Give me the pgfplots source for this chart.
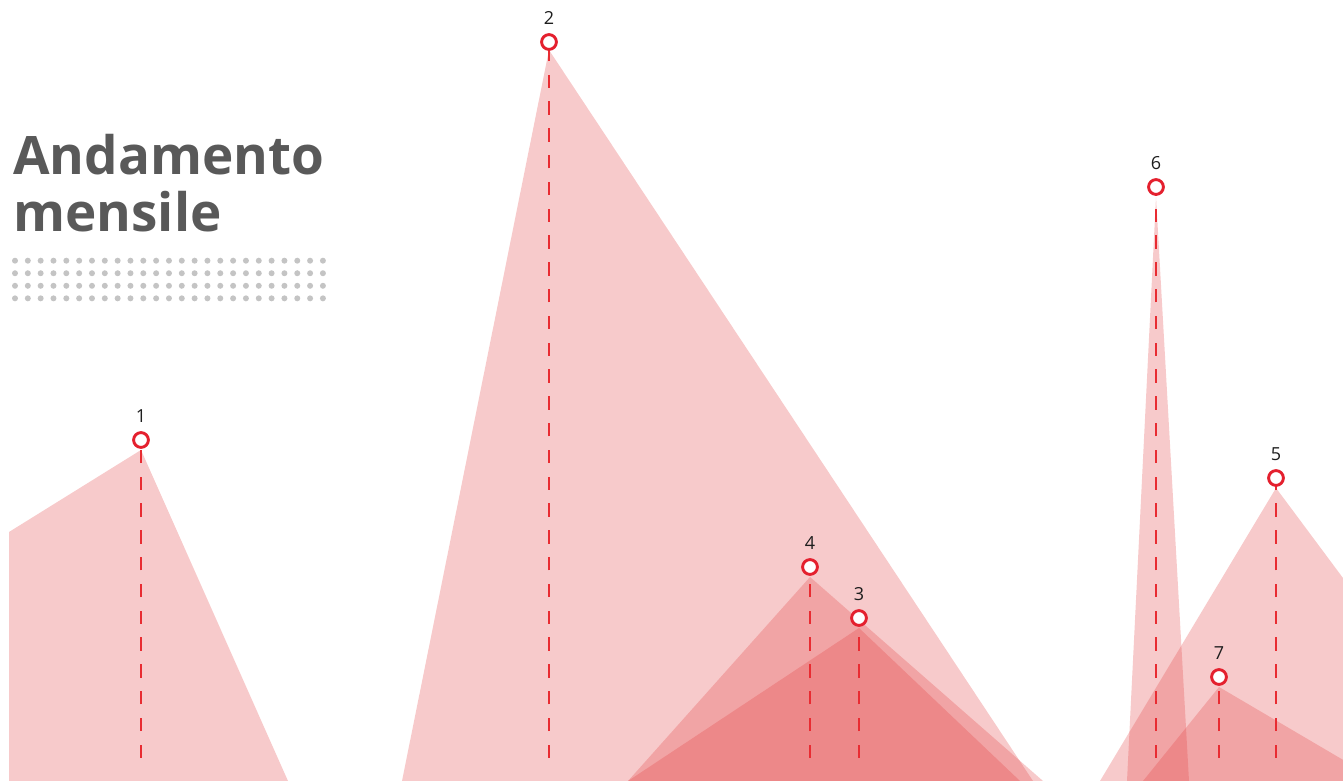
\documentclass[border=0pt]{standalone}
\usepackage{pgfplots}
\pgfplotsset{compat=1.18}
\usepackage{fontspec}
\setmainfont{Open Sans}
\definecolor{tri}{RGB}{226,60,62}
\definecolor{bred}{RGB}{228,32,46}
\definecolor{dred}{RGB}{232,44,50}
\definecolor{ttl}{RGB}{89,89,89}
\definecolor{dotc}{RGB}{196,196,196}
\definecolor{lbl}{RGB}{30,30,30}
\begin{document}
\begin{tikzpicture}
\path[use as bounding box] (0,0) rectangle (671.5pt,390.5pt);
\begin{axis}[at={(0,0)}, anchor=south west, width=671.5pt, height=390.5pt,
  scale only axis, xmin=0, xmax=1343, ymin=0, ymax=781,
  axis lines=none, xtick=\empty, ytick=\empty, clip=true]
% triangles (pixel-space units)
\addplot[draw=none, fill=tri, fill opacity=0.27] coordinates {(9,0) (9,249) (141,331) (288,0)} -- cycle;
\addplot[draw=none, fill=tri, fill opacity=0.27] coordinates {(402,0) (549,731) (1033,0)} -- cycle;
\addplot[draw=none, fill=tri, fill opacity=0.27] coordinates {(628,0) (859,153) (1020,0)} -- cycle;
\addplot[draw=none, fill=tri, fill opacity=0.27] coordinates {(628,0) (810,204) (1043,0)} -- cycle;
\addplot[draw=none, fill=tri, fill opacity=0.27] coordinates {(1100,0) (1276,293) (1494,0)} -- cycle;
\addplot[draw=none, fill=tri, fill opacity=0.27] coordinates {(1127,0) (1156,584) (1189,0)} -- cycle;
\addplot[draw=none, fill=tri, fill opacity=0.27] coordinates {(1143,0) (1219,94) (1379,0)} -- cycle;
% dashed drop lines (drawn bottom-up)
\addplot[dred, line width=1.4pt, dash pattern=on 6.7pt off 6.7pt] coordinates {(141,23) (141,333)};
\addplot[dred, line width=1.4pt, dash pattern=on 6.7pt off 6.7pt] coordinates {(549,23) (549,731)};
\addplot[dred, line width=1.4pt, dash pattern=on 6.7pt off 6.7pt] coordinates {(859,23) (859,155)};
\addplot[dred, line width=1.4pt, dash pattern=on 6.7pt off 6.7pt] coordinates {(810,23) (810,206)};
\addplot[dred, line width=1.4pt, dash pattern=on 6.7pt off 6.7pt] coordinates {(1276,23) (1276,295)};
\addplot[dred, line width=1.4pt, dash pattern=on 6.7pt off 6.7pt] coordinates {(1156,23) (1156,586)};
\addplot[dred, line width=1.4pt, dash pattern=on 6.7pt off 6.7pt] coordinates {(1219,23) (1219,96)};
% bullets with labels
\addplot[only marks, mark=*, mark size=3.7pt,
  mark options={draw=bred, fill=white, line width=1.45pt},
  nodes near coords, point meta=explicit symbolic,
  every node near coord/.append style={anchor=center, yshift=12pt,
    font=\fontsize{9}{10}\selectfont, text=lbl}]
  coordinates {(141,341) [1] (549,739) [2] (859,163) [3] (810,214) [4]
               (1276,303) [5] (1156,594) [6] (1219,104) [7]};
\end{axis}
\begin{scope}[x=0.5pt,y=0.5pt]
\node[anchor=base west, inner sep=0pt, text=ttl, font=\fontsize{26.5}{28}\selectfont\bfseries] at (13,606) {Andamento};
\node[anchor=base west, inner sep=0pt, text=ttl, font=\fontsize{26.5}{28}\selectfont\bfseries] at (13,549) {mensile};
\foreach \i in {0,...,24} {
  \foreach \j in {0,...,3} {
    \fill[dotc] ({15+12.83*\i},{520.3-12.55*\j}) circle (1.5pt);
  }
}
\end{scope}
\end{tikzpicture}
\end{document}
